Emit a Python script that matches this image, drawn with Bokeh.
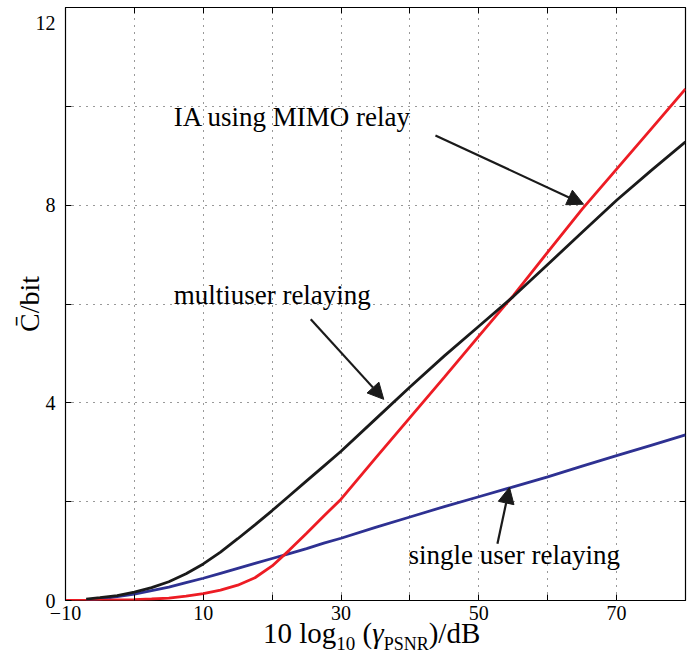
from bokeh.plotting import figure
from bokeh.layouts import column
from bokeh.models import Range1d, LinearAxis, FixedTicker, Label, Arrow, NormalHead, Div
from bokeh.embed import file_html
from bokeh.resources import INLINE

# ---- data ----
x_red = [-10, -7.5, -5, -2.5, 0, 2.5, 5, 7.5, 10, 12.5, 15, 17.5, 20, 22.5, 25, 27.5,
         30, 35, 40, 45, 50, 55, 60, 65, 70, 75, 80]
y_red = [0.0, 0.0, 0.0, 0.01, 0.015, 0.03, 0.05, 0.09, 0.14, 0.21, 0.31, 0.46, 0.70,
         1.02, 1.36, 1.71, 2.05, 2.88, 3.70, 4.52, 5.35, 6.17, 7.05, 7.92, 8.73, 9.54, 10.35]

x_black = [-7, -5, -2.5, 0, 2.5, 5, 7.5, 10, 12.5, 15, 17.5, 20, 22.5, 25, 27.5,
           30, 35, 40, 45, 50, 55, 60, 65, 70, 75, 80]
y_black = [0.03, 0.06, 0.10, 0.17, 0.26, 0.38, 0.54, 0.74, 0.98, 1.25, 1.53, 1.82, 2.12,
           2.42, 2.72, 3.02, 3.67, 4.32, 4.95, 5.55, 6.15, 6.80, 7.45, 8.10, 8.70, 9.28]

x_blue = [-7, -5, -2.5, 0, 2.5, 5, 7.5, 10, 12.5, 15, 17.5, 20, 22.5, 25, 27.5,
          30, 35, 40, 45, 50, 55, 60, 65, 70, 75, 80]
y_blue = [0.0, 0.03, 0.08, 0.13, 0.20, 0.27, 0.36, 0.45, 0.55, 0.65, 0.75, 0.85, 0.95,
          1.05, 1.16, 1.26, 1.48, 1.69, 1.90, 2.10, 2.30, 2.50, 2.72, 2.93, 3.14, 3.35]

x_ticks = [-10, 0, 10, 20, 30, 40, 50, 60, 70, 80]
x_tick_labels = {-10: "\u221210", 0: "", 10: "10", 20: "", 30: "30", 40: "", 50: "50",
                 60: "", 70: "70", 80: ""}
y_ticks = [0, 2, 4, 6, 8, 10, 12]
y_tick_labels = {0: "0", 2: "", 4: "4", 6: "", 8: "8", 10: "", 12: "\n12"}

# annotations: (text, x, y)
notes = [("IA using MIMO relay", 5.7, 9.78),
         ("multiuser relaying", 5.7, 6.18),
         ("single user relaying", 39.8, 0.93)]
# arrows: (x_start, y_start, x_end, y_end)
arrows = [(43.7, 9.41, 65.2, 8.02),
          (25.6, 5.69, 36.2, 4.07),
          (52.7, 1.15, 54.45, 2.29)]

y_label = "C\u0304/bit"
x_label_html = ("10 log<sub style='font-size:19px'>10</sub> (<i>\u03b3</i>"
                "<sub style='font-size:18px'>PSNR</sub>)/dB")

FONT = "Liberation Serif"

p = figure(width=697, height=630, output_backend="svg", toolbar_location=None,
           x_range=Range1d(-10, 80), y_range=Range1d(0, 12),
           min_border_left=65, min_border_right=12, min_border_top=7, min_border_bottom=30)

p.background_fill_color = "white"
p.border_fill_color = "white"
p.outline_line_color = "black"
p.outline_line_width = 1.2

xt = FixedTicker(ticks=x_ticks)
yt = FixedTicker(ticks=y_ticks)

for ax in p.xaxis:
    ax.ticker = xt
    ax.major_label_overrides = x_tick_labels
    ax.axis_label = None
    ax.major_label_standoff = 5
for ax in p.yaxis:
    ax.ticker = yt
    ax.major_label_overrides = y_tick_labels
    ax.axis_label = y_label
    ax.axis_label_text_font = FONT
    ax.axis_label_text_font_size = "28px"
    ax.axis_label_text_font_style = "normal"
    ax.axis_label_text_color = "black"
    ax.axis_label_standoff = -12
    ax.major_label_standoff = 10
    ax.major_label_text_line_height = 0.5

for ax in list(p.xaxis) + list(p.yaxis):
    ax.axis_line_color = None
    ax.major_tick_in = 6
    ax.major_tick_out = 0
    ax.major_tick_line_color = "black"
    ax.minor_tick_line_color = None
    ax.major_label_text_font = FONT
    ax.major_label_text_font_size = "20px"
    ax.major_label_text_color = "black"

# top/right tick-only axes
top = LinearAxis(ticker=xt, major_label_text_font_size="0px", major_label_standoff=0,
                 axis_line_color=None, major_tick_in=6, major_tick_out=0,
                 minor_tick_line_color=None, major_label_overrides={t: "" for t in x_ticks})
right = LinearAxis(ticker=yt, major_label_text_font_size="0px", major_label_standoff=0,
                   axis_line_color=None, major_tick_in=6, major_tick_out=0,
                   minor_tick_line_color=None, major_label_overrides={t: "" for t in y_ticks})
p.add_layout(top, "above")
p.add_layout(right, "right")

p.xgrid.ticker = xt
p.ygrid.ticker = yt
for g in (p.xgrid, p.ygrid):
    g.grid_line_color = "#333333"
    g.grid_line_dash = "1 6"
    g.grid_line_width = 1

p.line(x_blue, y_blue, line_color="#2e3192", line_width=2.8)
p.line(x_red, y_red, line_color="#ed1c24", line_width=2.8)
p.line(x_black, y_black, line_color="#1a1a1a", line_width=2.8)

for (txt, x, y) in notes:
    p.add_layout(Label(x=x, y=y, text=txt, text_font=FONT, text_font_size="27px",
                       text_color="black", text_align="left", text_baseline="alphabetic"))

for (xs, ys, xe, ye) in arrows:
    p.add_layout(Arrow(end=NormalHead(size=16, fill_color="#1a1a1a", line_color="#1a1a1a"),
                       x_start=xs, y_start=ys, x_end=xe, y_end=ye,
                       line_color="#1a1a1a", line_width=2.2))

xlab = Div(text=("<div style=\"position:relative; top:-16px; left:258px; white-space:nowrap;"
                 " font-family:'Liberation Serif'; font-size:29px; line-height:29px;"
                 " color:black;\">" + x_label_html + "</div>"),
           width=697, height=24)

layout = column(p, xlab, spacing=0)
open("out.html", "w").write(file_html(layout, INLINE))
